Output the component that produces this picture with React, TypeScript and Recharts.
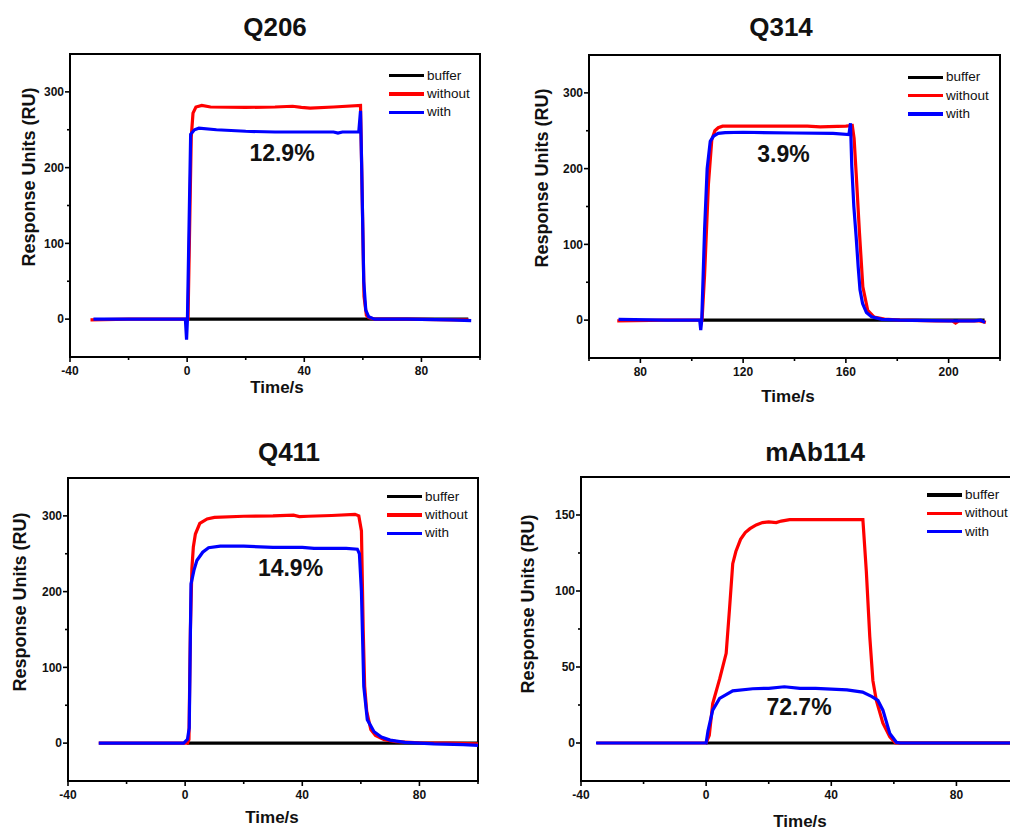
import React from 'react';
import { LineChart, Line, XAxis, YAxis, ReferenceArea, Legend } from 'recharts';

const FONT = '"Liberation Sans", Arial, Helvetica, sans-serif';

// ---------- Legend ----------
const seriesNames = ['buffer', 'without', 'with'];
const seriesColors = ['#000000', '#ff0000', '#0000ff'];

// ---------- Q206 ----------
const q206BufferT = [0, 96];
const q206BufferY = [0, 0];
const q206WithoutT = [-33, -20, 0.3, 1.4, 2, 3, 5, 8, 20, 30, 36, 39, 42, 50, 59.2, 59.6, 60.4, 61.2, 62, 64, 75, 90, 96];
const q206WithoutY = [-1, 0, 0, 240, 272, 280, 282, 280, 279.5, 280, 281, 279.5, 278.5, 280, 282, 200, 30, 5, 2, 0, 0, -1, -1];
const q206WithT = [-32, -15, -0.6, -0.2, 0.1, 1.2, 2.5, 4, 10, 20, 30, 40, 50, 51.5, 53, 58.6, 59.2, 59.6, 60.3, 61, 62, 64, 75, 90, 97];
const q206WithY = [0, 0, 0, -27, 0, 244, 250, 252, 250, 248, 247, 247, 247, 245.5, 247, 247, 275, 200, 50, 12, 3, 0, 0, -1, -2];

// ---------- Q314 ----------
const q314BufferT = [104, 214];
const q314BufferY = [0, 0];
const q314WithoutT = [71, 90, 104, 105, 106.5, 107.8, 109, 110.3, 112, 130, 145, 150, 160, 162.5, 163.2, 164, 165.3, 166.6, 168.5, 171, 175, 181, 195, 201.5, 202.7, 204, 212, 214.5];
const q314WithoutY = [-1, 0, 0, 60, 180, 238, 250, 254, 256, 256, 256, 255, 256, 257, 240, 194, 115, 44, 13, 4, 1.5, 0, -1, -1, -4, -1, -1, -3];
const q314WithT = [71.5, 90, 103.1, 103.5, 103.9, 105, 106, 107.2, 108.5, 110.3, 113, 120, 140, 155, 161.2, 161.8, 162.3, 163.1, 164, 164.8, 165.5, 166.5, 168, 170, 174, 181, 200, 210, 212.5, 213.5, 214.2];
const q314WithY = [1, 0, 0, -13, 0, 120, 200, 236, 243, 246.5, 247.5, 248, 247, 246.5, 245, 260, 203, 150, 110, 70, 40, 22, 10, 4.5, 1, 0, -1, -1, 0, -2, -3];

// ---------- Q411 ----------
const q411BufferT = [0.6, 100];
const q411BufferY = [0, 0];
const q411WithoutT = [-29.5, -10, 0.8, 1.3, 1.8, 2.3, 2.8, 3.5, 5, 7.5, 10, 20, 30, 37, 39, 42, 50, 58, 59.3, 60.2, 60.8, 61.3, 62, 63.4, 65, 68, 72, 80, 90, 100];
const q411WithoutY = [0, 0, 0, 5, 150, 230, 259, 276, 290, 296, 298, 299.5, 300, 301, 299, 299.5, 300.5, 302, 300, 280, 150, 75, 42, 18, 10, 4.5, 2, 0.5, 0, -1];
const q411WithT = [-29.5, -10, -0.5, 0.8, 1.4, 2, 3, 4, 6, 8, 12, 20, 30, 40, 44, 48, 55, 58.8, 59.5, 60.2, 61, 62.2, 64.5, 67, 70, 75, 85, 95, 100];
const q411WithY = [0, 0, 0, 5, 20, 210, 228, 241, 252, 258, 260, 260, 258.5, 258.5, 257, 257, 257, 256, 250, 200, 75, 31, 15, 8, 4, 1, -1, -2, -3];

// ---------- mAb114 ----------
const mab114BufferT = [0, 100];
const mab114BufferY = [0, 0];
const mab114WithoutT = [-35, -10, 0, 1, 2.1, 4.3, 6.4, 7.5, 8.5, 9.5, 11, 12.5, 14, 16, 18, 20, 22.4, 24, 26.7, 35, 45, 50.1, 51.2, 52.3, 53.3, 54.4, 56.5, 58.7, 60.5, 70, 100];
const mab114WithoutY = [0, 0, 0, 5, 26, 42, 59, 89, 118, 126, 134, 138.5, 141, 143.5, 145, 145.5, 145, 146, 147, 147, 147, 147, 113, 70, 41, 28, 13, 4, 0, 0, 0];
const mab114WithT = [-35.2, -10, 0, 0.6, 2.1, 4.3, 8.5, 14.9, 20, 25, 30, 35, 45, 50, 53, 54.9, 56.5, 58.7, 60.8, 62, 80, 100];
const mab114WithY = [0, 0, 0, 8, 21.6, 29.3, 34.3, 35.7, 36, 37, 36, 36, 35, 33.5, 30.5, 28, 21.6, 6.3, 0.5, 0, 0, 0];

// ---------- Axis ticks ----------
const timeTicksA = [-40, -20, 0, 20, 40, 60, 80, 100];
const timeMajorA = [-40, 0, 40, 80];
const timeTicksB = [60, 80, 100, 120, 140, 160, 180, 200, 220];
const timeMajorB = [80, 120, 160, 200];
const ruTicksA = [0, 50, 100, 150, 200, 250, 300];
const ruMajorA = [0, 100, 200, 300];
const ruTicksB = [0, 25, 50, 75, 100, 125, 150];
const ruMajorB = [0, 50, 100, 150];

const titles = ['Q206', 'Q314', 'Q411', 'mAb114'];
const percents = ['12.9%', '3.9%', '14.9%', '72.7%'];

const zip = (t: number[], v: number[]) => t.map((x, i) => ({ t: x, v: v[i] }));

type PanelCfg = {
  title: string;
  pct: string;
  plot: { x: number; y: number; w: number; h: number };
  xDomain: [number, number];
  yDomain: [number, number];
  xTicks: number[];
  xMajor: number[];
  yTicks: number[];
  yMajor: number[];
  series: { t: number; v: number }[][];
  titlePos: [number, number];
  yLabelPos: [number, number];
  xLabelPos: [number, number];
  pctPos: [number, number];
  legendPos: [number, number];
};

const panels: PanelCfg[] = [
  {
    title: titles[0], pct: percents[0],
    plot: { x: 70, y: 54, w: 410, h: 303 },
    xDomain: [-40, 100], yDomain: [-50, 350],
    xTicks: timeTicksA, xMajor: timeMajorA, yTicks: ruTicksA, yMajor: ruMajorA,
    series: [zip(q206BufferT, q206BufferY), zip(q206WithoutT, q206WithoutY), zip(q206WithT, q206WithY)],
    titlePos: [275, 27], yLabelPos: [29, 177], xLabelPos: [277, 388], pctPos: [282, 153], legendPos: [389, 75.7],
  },
  {
    title: titles[1], pct: percents[1],
    plot: { x: 589, y: 55, w: 411, h: 303 },
    xDomain: [60, 220], yDomain: [-50, 350],
    xTicks: timeTicksB, xMajor: timeMajorB, yTicks: ruTicksA, yMajor: ruMajorA,
    series: [zip(q314BufferT, q314BufferY), zip(q314WithoutT, q314WithoutY), zip(q314WithT, q314WithY)],
    titlePos: [781, 27], yLabelPos: [542, 178], xLabelPos: [788, 397], pctPos: [783.5, 154], legendPos: [908, 77.3],
  },
  {
    title: titles[2], pct: percents[2],
    plot: { x: 68, y: 478, w: 410, h: 303 },
    xDomain: [-40, 100], yDomain: [-50, 350],
    xTicks: timeTicksA, xMajor: timeMajorA, yTicks: ruTicksA, yMajor: ruMajorA,
    series: [zip(q411BufferT, q411BufferY), zip(q411WithoutT, q411WithoutY), zip(q411WithT, q411WithY)],
    titlePos: [289, 452], yLabelPos: [20, 601.5], xLabelPos: [272, 818], pctPos: [290.5, 568], legendPos: [387, 496.7],
  },
  {
    title: titles[3], pct: percents[3],
    plot: { x: 581, y: 477, w: 438, h: 304 },
    xDomain: [-40, 100], yDomain: [-25, 175],
    xTicks: timeTicksA, xMajor: timeMajorA, yTicks: ruTicksB, yMajor: ruMajorB,
    series: [zip(mab114BufferT, mab114BufferY), zip(mab114WithoutT, mab114WithoutY), zip(mab114WithT, mab114WithY)],
    titlePos: [815, 452], yLabelPos: [528, 604], xLabelPos: [800, 822], pctPos: [799, 707], legendPos: [927, 495],
  },
];

const makeXTick = (major: number[]) => (p: any) => {
  const { x, y, payload } = p;
  const isMajor = major.includes(payload.value);
  return (
    <g>
      <line x1={x} x2={x} y1={y} y2={y + (isMajor ? 5 : 3)} stroke="#000" strokeWidth={1.6} />
      {isMajor && (
        <text x={x} y={y + 17.5} textAnchor="middle" fontFamily={FONT} fontSize={12} fontWeight="bold" fill="#111">
          {payload.value}
        </text>
      )}
    </g>
  );
};

const makeYTick = (major: number[]) => (p: any) => {
  const { x, y, payload } = p;
  const isMajor = major.includes(payload.value);
  return (
    <g>
      <line x1={x - (isMajor ? 5 : 3)} x2={x} y1={y} y2={y} stroke="#000" strokeWidth={1.6} />
      {isMajor && (
        <text x={x - 6} y={y} dy="0.36em" textAnchor="end" fontFamily={FONT} fontSize={12} fontWeight="bold" fill="#111">
          {payload.value}
        </text>
      )}
    </g>
  );
};

const LegendBox = () => (
  <div style={{ fontFamily: FONT, fontSize: 13.5, color: '#111' }}>
    {seriesNames.map((name, i) => (
      <div key={name} style={{ display: 'flex', alignItems: 'center', height: 18.3 }}>
        <div style={{ width: 35, height: 3.5, background: seriesColors[i], marginRight: 3 }} />
        <span style={{ lineHeight: '18px', whiteSpace: 'nowrap' }}>{name}</span>
      </div>
    ))}
  </div>
);

const centered = (x: number, y: number, extra: React.CSSProperties = {}): React.CSSProperties => ({
  position: 'absolute',
  left: x,
  top: y,
  transform: 'translate(-50%, -50%)',
  whiteSpace: 'nowrap',
  fontFamily: FONT,
  fontWeight: 'bold',
  color: '#111',
  lineHeight: 'normal',
  ...extra,
});

function Panel({ cfg }: { cfg: PanelCfg }) {
  const { plot } = cfg;
  const W = plot.w + 70;
  const H = plot.h + 40;
  const left = plot.x - 60;
  const top = plot.y - 10;
  return (
    <>
      <div style={{ position: 'absolute', left, top, width: W, height: H }}>
        <LineChart width={W} height={H} margin={{ top: 10, right: 10, bottom: 0, left: 20 }}>
          <XAxis
            type="number"
            dataKey="t"
            domain={cfg.xDomain}
            allowDataOverflow
            ticks={cfg.xTicks}
            interval={0}
            height={30}
            tickLine={false}
            tickSize={0}
            tickMargin={0}
            axisLine={{ stroke: '#000', strokeWidth: 2 }}
            tick={makeXTick(cfg.xMajor)}
          />
          <YAxis
            type="number"
            dataKey="v"
            domain={cfg.yDomain}
            allowDataOverflow
            ticks={cfg.yTicks}
            interval={0}
            width={40}
            tickLine={false}
            tickSize={0}
            tickMargin={0}
            axisLine={{ stroke: '#000', strokeWidth: 2 }}
            tick={makeYTick(cfg.yMajor)}
          />
          <ReferenceArea
            x1={cfg.xDomain[0]}
            x2={cfg.xDomain[1]}
            y1={cfg.yDomain[0]}
            y2={cfg.yDomain[1]}
            fill="none"
            fillOpacity={0}
            stroke="#000"
            strokeWidth={2}
          />
          {cfg.series.map((data, i) => (
            <Line
              key={seriesNames[i]}
              name={seriesNames[i]}
              data={data}
              dataKey="v"
              type="linear"
              stroke={seriesColors[i]}
              strokeWidth={3.2}
              dot={false}
              activeDot={false}
              isAnimationActive={false}
            />
          ))}
          <Legend
            layout="vertical"
            align="center"
            verticalAlign="middle"
            wrapperStyle={{ left: cfg.legendPos[0] - left, top: cfg.legendPos[1] - 9.15 - top, width: 100 }}
            content={() => <LegendBox />}
          />
        </LineChart>
      </div>
      <div style={centered(cfg.titlePos[0], cfg.titlePos[1], { fontSize: 26 })}>{cfg.title}</div>
      <div style={centered(cfg.yLabelPos[0], cfg.yLabelPos[1], { fontSize: 18, transform: 'translate(-50%, -50%) rotate(-90deg)' })}>
        Response Units (RU)
      </div>
      <div style={centered(cfg.xLabelPos[0], cfg.xLabelPos[1], { fontSize: 17 })}>Time/s</div>
      <div style={centered(cfg.pctPos[0], cfg.pctPos[1], { fontSize: 23 })}>{cfg.pct}</div>
    </>
  );
}

export default function App() {
  return (
    <div
      style={{
        position: 'absolute',
        left: 0,
        top: 0,
        width: 1010,
        height: 830,
        overflow: 'hidden',
        background: '#ffffff',
      }}
    >
      {panels.map((p) => (
        <Panel key={p.title} cfg={p} />
      ))}
    </div>
  );
}
